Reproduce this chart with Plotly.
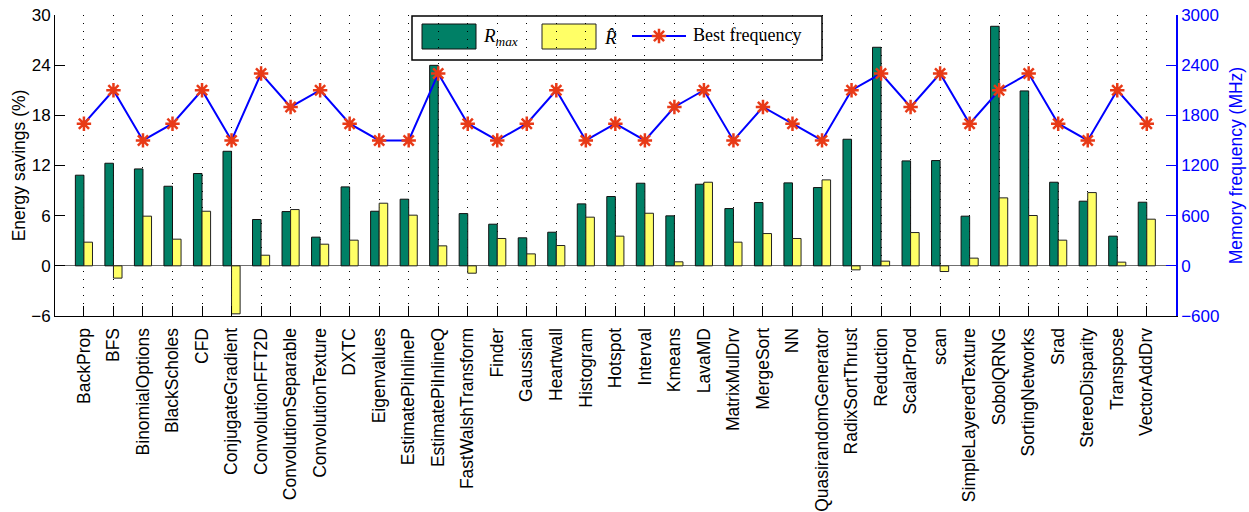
import plotly.graph_objects as go

# Benchmarks (x axis)
categories = [
    "BackProp", "BFS", "BinomialOptions", "BlackScholes", "CFD",
    "ConjugateGradient", "ConvolutionFFT2D", "ConvolutionSeparable",
    "ConvolutionTexture", "DXTC", "Eigenvalues", "EstimatePiInlineP",
    "EstimatePiInlineQ", "FastWalshTransform", "Finder", "Gaussian",
    "Heartwall", "Histogram", "Hotspot", "Interval", "Kmeans", "LavaMD",
    "MatrixMulDrv", "MergeSort", "NN", "QuasirandomGenerator",
    "RadixSortThrust", "Reduction", "ScalarProd", "scan",
    "SimpleLayeredTexture", "SobolQRNG", "SortingNetworks", "Srad",
    "StereoDisparity", "Transpose", "VectorAddDrv",
]

# Energy savings (%)
r_max = [
    10.84, 12.27, 11.59, 9.52, 11.04, 13.70, 5.54, 6.49, 3.43, 9.44,
    6.53, 7.97, 23.98, 6.25, 4.98, 3.35, 4.02, 7.41, 8.29, 9.88,
    5.98, 9.76, 6.85, 7.57, 9.92, 9.36, 15.14, 26.14, 12.55, 12.59,
    5.94, 28.65, 20.92, 10.00, 7.73, 3.55, 7.61,
]
r_hat = [
    2.83, -1.47, 5.94, 3.19, 6.53, -5.74, 1.27, 6.73, 2.59, 3.07,
    7.49, 6.06, 2.39, -0.88, 3.27, 1.43, 2.43, 5.82, 3.55, 6.29,
    0.48, 10.00, 2.83, 3.86, 3.27, 10.28, -0.48, 0.56, 3.98, -0.68,
    0.92, 8.13, 6.02, 3.07, 8.76, 0.44, 5.58,
]

# Best memory frequency (MHz)
best_freq = [
    1700, 2100, 1500, 1700, 2100, 1500, 2300, 1900, 2100, 1700,
    1500, 1500, 2300, 1700, 1500, 1700, 2100, 1500, 1700, 1500,
    1900, 2100, 1500, 1900, 1700, 1500, 2100, 2300, 1900, 2300,
    1700, 2100, 2300, 1700, 1500, 2100, 1700,
]

left_ticks = [-6, 0, 6, 12, 18, 24, 30]
right_ticks = [-600, 0, 600, 1200, 1800, 2400, 3000]

GREEN = "#008066"
YELLOW = "#ffff66"
STAR = "#e83a17"
BLUE = "#0000ff"
SANS = "Liberation Sans, Arial, sans-serif"
SERIF = "Liberation Serif, Times New Roman, serif"

W, H = 1249, 512
ML, MR, MT, MB = 55, 73, 15, 196
PW, PH = W - ML - MR, H - MT - MB


def px(x):
    return (x - ML) / PW


def py(y):
    return (H - MB - y) / PH


idx = list(range(len(categories)))
bw = 0.29
star_marker = dict(symbol="asterisk-open", size=12, color=STAR,
                   line=dict(color=STAR, width=2.5))

fig = go.Figure()
fig.add_trace(go.Bar(
    x=idx, y=r_max, width=bw, offset=-bw, name="R_max",
    marker=dict(color=GREEN, line=dict(color="#111111", width=1)),
    showlegend=False,
))
fig.add_trace(go.Bar(
    x=idx, y=r_hat, width=bw, offset=0, name="R_hat",
    marker=dict(color=YELLOW, line=dict(color="#222222", width=1)),
    showlegend=False,
))
fig.add_trace(go.Scatter(
    x=idx, y=best_freq, yaxis="y2", mode="lines+markers",
    name="Best frequency",
    line=dict(color=BLUE, width=2),
    marker=star_marker,
    showlegend=False,
))

# Legend sample: line and star, on a hidden 0..1 overlay
lx0, lx1, ly = px(632), px(686), py(36)
fig.add_trace(go.Scatter(
    x=[lx0, lx1], y=[ly, ly], xaxis="x2", yaxis="y3", mode="lines",
    line=dict(color=BLUE, width=2), showlegend=False, hoverinfo="skip",
))
fig.add_trace(go.Scatter(
    x=[(lx0 + lx1) / 2], y=[ly], xaxis="x2", yaxis="y3", mode="markers",
    marker=star_marker, showlegend=False, hoverinfo="skip",
))

shapes = [
    # legend frame
    dict(type="rect", xref="paper", yref="paper",
         x0=px(412), x1=px(822), y0=py(60), y1=py(16),
         fillcolor="white", line=dict(color="black", width=1.5),
         layer="between"),
    # legend patches
    dict(type="rect", xref="paper", yref="paper",
         x0=px(422), x1=px(476), y0=py(49), y1=py(24),
         fillcolor=GREEN, line=dict(color="#111111", width=1),
         layer="between"),
    dict(type="rect", xref="paper", yref="paper",
         x0=px(542), x1=px(596), y0=py(49), y1=py(24),
         fillcolor=YELLOW, line=dict(color="#222222", width=1),
         layer="between"),
]

annotations = [
    dict(text="<i>R</i><sub><i>max</i></sub>", xref="paper", yref="paper",
         x=px(481), y=py(37), xanchor="left", yanchor="middle",
         showarrow=False, font=dict(family=SERIF, size=19, color="black")),
    dict(text="<i>R\u0302</i>", xref="paper", yref="paper",
         x=px(602), y=py(37), xanchor="left", yanchor="middle",
         showarrow=False, font=dict(family=SERIF, size=19, color="black")),
    dict(text="Best frequency", xref="paper", yref="paper",
         x=px(691), y=py(35), xanchor="left", yanchor="middle",
         showarrow=False, font=dict(family=SERIF, size=18, color="black")),
]

fig.update_layout(
    width=W, height=H,
    margin=dict(l=ML, r=MR, t=MT, b=MB),
    paper_bgcolor="white", plot_bgcolor="white",
    font=dict(family=SANS, size=17, color="black"),
    barmode="overlay",
    shapes=shapes,
    annotations=annotations,
    xaxis=dict(
        range=[-0.98, 36.99], tickmode="array", tickvals=idx,
        ticktext=categories, tickangle=-90, automargin=False,
        tickfont=dict(family=SANS, size=17.5, color="black"),
        ticklabelstandoff=4,
        ticks="inside", ticklen=10, tickcolor="black", tickwidth=1,
        showline=True, linecolor="black", linewidth=1,
        showgrid=True, gridcolor="black", gridwidth=1, griddash="1px,7px",
        zeroline=False,
    ),
    yaxis=dict(
        range=[-6, 30], tickmode="array", tickvals=left_ticks,
        automargin=False,
        tickfont=dict(family=SANS, size=17, color="black"),
        ticks="inside", ticklen=10, tickcolor="black", tickwidth=1,
        showline=True, linecolor="black", linewidth=1,
        showgrid=False, zeroline=True, zerolinecolor="#707070",
        zerolinewidth=1,
        title=dict(text="Energy savings (%)",
                   font=dict(family=SANS, size=17.5, color="black"),
                   standoff=1),
    ),
    yaxis2=dict(
        range=[-600, 3000], tickmode="array", tickvals=right_ticks,
        overlaying="y", side="right", automargin=False,
        tickfont=dict(family=SANS, size=17, color=BLUE),
        ticks="inside", ticklen=10, tickcolor=BLUE, tickwidth=1,
        showline=True, linecolor=BLUE, linewidth=1.5,
        showgrid=False, zeroline=False,
        title=dict(text="Memory frequency (MHz)",
                   font=dict(family=SANS, size=17.5, color=BLUE),
                   standoff=11),
    ),
    xaxis2=dict(overlaying="x", range=[0, 1], visible=False),
    yaxis3=dict(overlaying="y", range=[0, 1], visible=False),
)

fig.write_html("out.html")
